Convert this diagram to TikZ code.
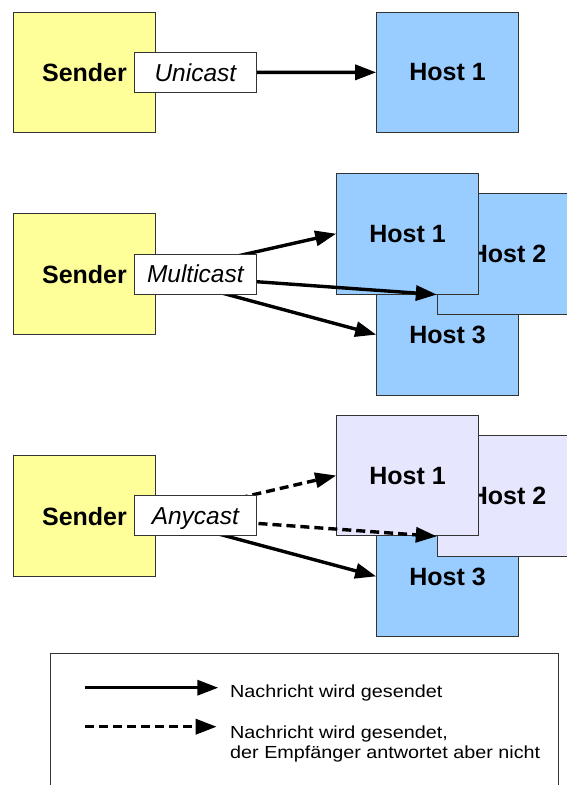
\documentclass[tikz,border=0pt]{standalone}
\usepackage{fontspec}
\setmainfont{Liberation Sans}
\newfontfamily\legendfont{Liberation Sans}[FakeStretch=1.13]
\usetikzlibrary{arrows.meta,calc}

\definecolor{senderfill}{HTML}{FFFF99}
\definecolor{hostfill}{HTML}{99CCFF}
\definecolor{idlefill}{HTML}{E6E6FF}
\definecolor{edgegray}{HTML}{333333}

% hosts at the bottom, message arrows above them, senders and labels on top
\pgfdeclarelayer{hostlayer}
\pgfdeclarelayer{arrowlayer}
\pgfsetlayers{hostlayer,arrowlayer,main}

\begin{document}
\begin{tikzpicture}[x=1pt,y=-1pt,
  box/.style={draw=edgegray, line width=1pt, rectangle, inner sep=0pt,
    minimum width=141.6pt, minimum height=120.7pt, text depth=0pt,
    font=\fontsize{25}{28}\selectfont\bfseries},
  sender/.style={box, fill=senderfill},
  host/.style={box, fill=hostfill},
  idle/.style={box, fill=idlefill},
  castlabel/.style={draw=edgegray, line width=1pt, fill=white, inner sep=0pt,
    minimum width=121.3pt, minimum height=40pt, text depth=0pt,
    font=\fontsize{24.5}{28}\selectfont\itshape},
  msg/.style={line width=3.4pt, -{Triangle[length=21pt,width=15pt]}},
  quiet/.style={msg, dash pattern=on 9pt off 5pt},
  back/.style={shorten <=-12pt},
  legendtext/.style={anchor=base west, inner sep=0pt, align=left,
    font=\legendfont\fontsize{17.5}{20}\selectfont},
]
\useasboundingbox (0,0) rectangle (566,785);
\clip (0,0) rectangle (566,785);

% ---------- Unicast ----------
\begin{pgfonlayer}{hostlayer}
  \node[host] (h1) at (447.5,72.35) {Host 1};
\end{pgfonlayer}
\node[sender] (s1) at (84.5,72.35) {Sender};
\node[castlabel] (l1) at (195.35,72.3) {Unicast};
\begin{pgfonlayer}{arrowlayer}
  \draw[msg] (l1.east) -- (h1.west);
\end{pgfonlayer}

% ---------- Multicast ----------
\begin{pgfonlayer}{hostlayer}
  \node[host] (h23) at (447.5,334.65) {Host 3};
  \node[host] (h22) at (508.1,253.8) {Host 2};
  \node[host] (h21) at (407.5,233.7) {Host 1};
\end{pgfonlayer}
\node[sender] (s2) at (84.5,274.15) {Sender};
\node[castlabel] (l2) at (195.35,274) {Multicast};
\begin{pgfonlayer}{arrowlayer}
  \draw[msg, back] ($(l2.north east)+(-8,0)$) -- (h21.west);
  \draw[msg, back] ($(l2.east)+(0,7.7)$) -- (h22.west |- h21.south);
  \draw[msg, back] ($(l2.south)+(32,0)$) -- (h23.west);
\end{pgfonlayer}

% ---------- Anycast ----------
\begin{pgfonlayer}{hostlayer}
  \node[host] (h33) at (447.5,576.35) {Host 3};
  \node[idle] (h32) at (508.1,495.85) {Host 2};
  \node[idle] (h31) at (407.5,475.5) {Host 1};
\end{pgfonlayer}
\node[sender] (s3) at (84.5,516.2) {Sender};
\node[castlabel] (l3) at (195.35,515.85) {Anycast};
\begin{pgfonlayer}{arrowlayer}
  \draw[quiet, back] ($(l3.north east)+(-6,0)$) -- (h31.west);
  \draw[quiet, back] ($(l3.east)+(0,7.5)$) -- (h32.west |- h31.south);
  \draw[msg, back] ($(l3.south)+(32,0)$) -- (h33.west);
\end{pgfonlayer}

% ---------- Legend ----------
\node[draw=edgegray, line width=1pt, inner sep=0pt, anchor=north west,
  minimum width=508.3pt, minimum height=160pt] (legend) at (50,653.3) {};
\coordinate (ka) at (85,687.7);
\coordinate (kb) at (218.3,687.7);
\coordinate (kc) at (85,726.7);
\coordinate (kd) at (216.7,726.7);
\draw[msg] (ka) -- (kb);
\draw[quiet] (kc) -- (kd);
\node[legendtext] (t1) at (230,697) {Nachricht wird gesendet};
% a multi-line node sits on the baseline of its last line
\node[legendtext] (t2) at (230,758) {Nachricht wird gesendet,\\der Empfänger antwortet aber nicht};
\end{tikzpicture}
\end{document}
